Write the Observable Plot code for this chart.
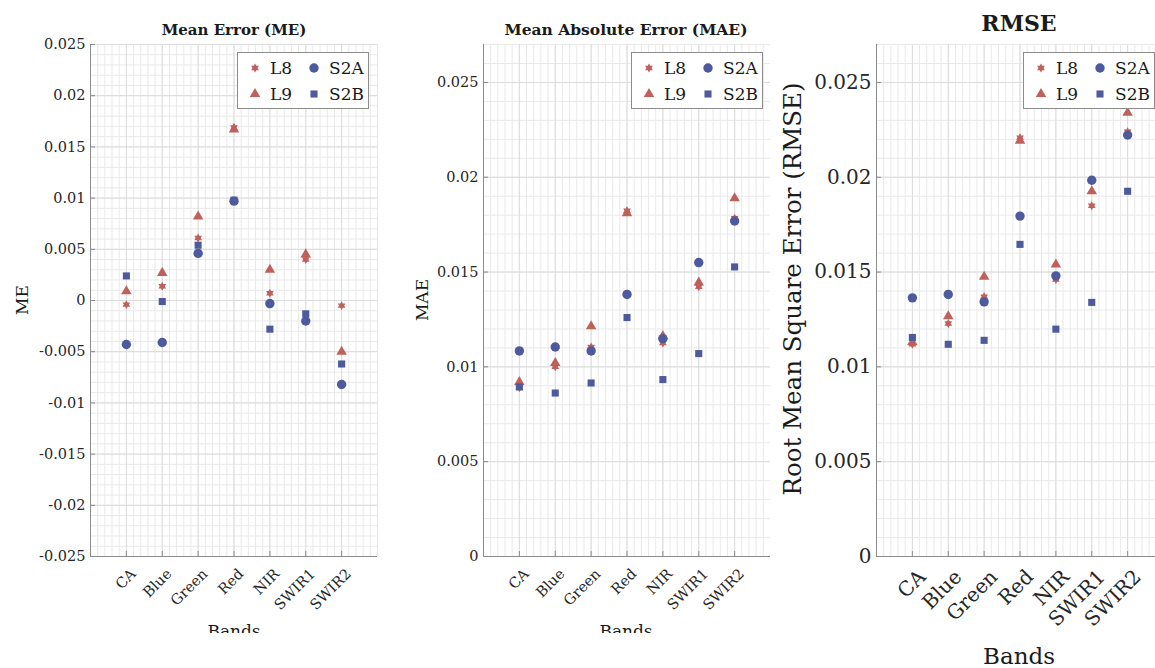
<!DOCTYPE html>
<html><head><meta charset="utf-8">
<script src="https://cdn.jsdelivr.net/npm/d3@7"></script>
<script src="https://cdn.jsdelivr.net/npm/@observablehq/plot@0.6"></script>
<style>
body{margin:0;width:1155px;height:668px;overflow:hidden;background:#fff;position:relative;font-family:"DejaVu Serif",serif}
.panel{position:absolute;top:0;overflow:hidden}
.panel svg{max-width:none !important}
#overlay{position:absolute;left:0;top:0;pointer-events:none}
</style></head>
<body>
<div id="p1" class="panel" style="left:0;width:390px;height:633px"></div>
<div id="p2" class="panel" style="left:390px;width:390px;height:633px"></div>
<div id="p3" class="panel" style="left:770px;width:400px;height:668px"></div>
<svg id="overlay" width="1155" height="668"></svg>
<script>
// ---- data ----
const bands = ["CA", "Blue", "Green", "Red", "NIR", "SWIR1", "SWIR2"];
const seriesNames = ["L8", "L9", "S2A", "S2B"];

const meL8  = [-0.0004, 0.0014, 0.0061, 0.0169, 0.0007, 0.0040, -0.0005];
const meL9  = [0.0009, 0.0027, 0.0082, 0.0167, 0.0030, 0.0045, -0.0050];
const meS2A = [-0.0043, -0.0041, 0.0046, 0.0097, -0.0003, -0.0020, -0.0082];
const meS2B = [0.0024, -0.0001, 0.0054, 0.0098, -0.0028, -0.0013, -0.0062];

const maeL8  = [0.0089, 0.0100, 0.01105, 0.01823, 0.01126, 0.01422, 0.01784];
const maeL9  = [0.0092, 0.0102, 0.01214, 0.0181, 0.01162, 0.01445, 0.01889];
const maeS2A = [0.01084, 0.01105, 0.01084, 0.01382, 0.01149, 0.0155, 0.01769];
const maeS2B = [0.00894, 0.00862, 0.00915, 0.0126, 0.00933, 0.0107, 0.01527];

const rmseL8  = [0.01119, 0.01229, 0.0137, 0.02209, 0.01461, 0.0185, 0.0224];
const rmseL9  = [0.0113, 0.01267, 0.01475, 0.02193, 0.0154, 0.01926, 0.0234];
const rmseS2A = [0.01364, 0.01382, 0.01343, 0.01795, 0.0148, 0.01984, 0.02223];
const rmseS2B = [0.01155, 0.01119, 0.0114, 0.01646, 0.01199, 0.0134, 0.01926];

const meTicks = [-0.025, -0.02, -0.015, -0.01, -0.005, 0, 0.005, 0.01, 0.015, 0.02, 0.025];
const posTicks = [0, 0.005, 0.01, 0.015, 0.02, 0.025];

// ---- styles ----
const RED = "#c0605a", BLUE = "#4e5a9e";
const FONT = "DejaVu Serif";
const hexagram = {
  draw(ctx, size) {
    const R = Math.sqrt(size / Math.PI) * 1.2, r = R / Math.sqrt(3);
    for (let i = 0; i < 12; i++) {
      const a = i * Math.PI / 6 - Math.PI / 2, rr = i % 2 ? r : R;
      const x = rr * Math.cos(a), y = rr * Math.sin(a);
      i ? ctx.lineTo(x, y) : ctx.moveTo(x, y);
    }
    ctx.closePath();
  }
};
const symStyle = {
  L8:  {symbol: hexagram, fill: RED, r: 3.7},
  L9:  {symbol: "triangle", fill: RED, r: 3.9},
  S2A: {symbol: "circle", fill: BLUE, r: 4.7},
  S2B: {symbol: "square", fill: BLUE, r: 4.0}
};

function rows(arr) { return arr.map((v, i) => ({band: i + 1, value: v})); }

function makePanel(cfg) {
  const {width, ml, mr, ydom, yticks, series, tickFont, ldx, ldy} = cfg;
  const mt = 44, mb = 112, H = 668;
  const xMinor = d3.range(0, 8.0001, 0.2);
  const yMinor = d3.range(Math.round(ydom[0] * 1000), Math.round(ydom[1] * 1000) + 1).map(d => d / 1000);
  const xt = bands.map((b, i) => i + 1);
  const innerH = H - mt - mb, innerW = width - ml - mr;
  const ty = (ydom[1] - ydom[0]) * 5 / innerH;
  const tx = 8 * 5 / innerW;
  const marks = [
    Plot.ruleX(xMinor, {stroke: "#e9e9e9", strokeWidth: 1}),
    Plot.ruleY(yMinor, {stroke: "#e9e9e9", strokeWidth: 1}),
    Plot.ruleX(xt, {stroke: "#dcdcdc"}),
    Plot.ruleY(yticks, {stroke: "#dcdcdc"}),
    Plot.ruleX([0], {y1: ydom[0], y2: ydom[1], stroke: "#8c8c8c"}),
    Plot.ruleY([ydom[0]], {x1: 0, x2: 8, stroke: "#8c8c8c"}),
    Plot.ruleX(xt, {y1: ydom[0], y2: ydom[0] + ty, stroke: "#8c8c8c"}),
    Plot.ruleY(yticks, {x1: 0, x2: tx, stroke: "#8c8c8c"}),
    Plot.axisY({ticks: yticks, tickSize: 0, tickPadding: 5, tickFormat: d => String(d), fontSize: tickFont, label: null, fill: "#262626"}),
    Plot.text(bands, {x: (d, i) => i + 1, y: () => ydom[0], text: d => d, rotate: -45,
      textAnchor: "end", lineAnchor: "middle", dx: ldx, dy: ldy, fontSize: tickFont, fill: "#262626"})
  ];
  for (const name of ["L8", "L9", "S2B", "S2A"]) {
    marks.push(Plot.dot(rows(series[name]), {x: "band", y: "value", ...symStyle[name]}));
  }
  return Plot.plot({
    width, height: H, marginLeft: ml, marginRight: mr, marginTop: mt, marginBottom: mb,
    x: {domain: [0, 8], axis: null},
    y: {domain: ydom, axis: null},
    style: {fontFamily: FONT, background: "white", overflow: "visible", maxWidth: "none"},
    marks
  });
}

document.getElementById("p1").append(makePanel({
  width: 390, ml: 90, mr: 13, ydom: [-0.025, 0.025], yticks: meTicks, tickFont: 14.5, ldx: 7, ldy: 15,
  series: {L8: meL8, L9: meL9, S2A: meS2A, S2B: meS2B}
}));
document.getElementById("p2").append(makePanel({
  width: 390, ml: 93, mr: 10, ydom: [0, 0.027], yticks: posTicks, tickFont: 14.5, ldx: 7, ldy: 15,
  series: {L8: maeL8, L9: maeL9, S2A: maeS2A, S2B: maeS2B}
}));
document.getElementById("p3").append(makePanel({
  width: 400, ml: 106, mr: 7, ydom: [0, 0.027], yticks: posTicks, tickFont: 20, ldx: 10, ldy: 17,
  series: {L8: rmseL8, L9: rmseL9, S2A: rmseS2A, S2B: rmseS2B}
}));

// ---- overlay texts and legends ----
const ov = d3.select("#overlay");
ov.append("defs").append("clipPath").attr("id", "clipTop").append("rect")
  .attr("x", 0).attr("y", 0).attr("width", 780).attr("height", 633);
function txt(s, x, y, size, opts = {}) {
  const t = ov.append("text").attr("x", x).attr("y", y).text(s)
    .attr("font-family", FONT).attr("font-size", size).attr("fill", opts.fill || "#1a1a1a")
    .attr("text-anchor", opts.anchor || "middle");
  if (opts.bold) t.attr("font-weight", "bold");
  if (opts.rot) t.attr("transform", `rotate(-90 ${x} ${y})`);
  if (opts.clip) t.attr("clip-path", "url(#clipTop)");
  return t;
}
txt("Mean Error (ME)", 234, 35, 15, {bold: true});
txt("Mean Absolute Error (MAE)", 626, 35, 15.5, {bold: true});
txt("RMSE", 1019, 31, 22, {bold: true});
txt("ME", 28, 300, 17, {rot: true});
txt("MAE", 428, 300, 17, {rot: true});
txt("Root Mean Square Error (RMSE)", 801, 289, 24.5, {rot: true});
txt("Bands", 234, 637, 17, {clip: true});
txt("Bands", 626, 637, 17, {clip: true});
txt("Bands", 1019, 664, 23);

function legend(bx, by) {
  ov.append("rect").attr("x", bx + 0.5).attr("y", by + 0.5).attr("width", 131).attr("height", 56)
    .attr("fill", "white").attr("stroke", "#8c8c8c");
  const items = [
    ["L8", bx + 18, by + 16], ["S2A", bx + 77, by + 16],
    ["L9", bx + 18, by + 42], ["S2B", bx + 77, by + 42]
  ];
  for (const [name, x, y] of items) {
    const st = symStyle[name];
    const type = st.symbol === hexagram ? hexagram : st.symbol === "triangle" ? d3.symbolTriangle : st.symbol === "circle" ? d3.symbolCircle : d3.symbolSquare;
    ov.append("path").attr("d", d3.symbol(type, Math.PI * st.r * st.r)())
      .attr("transform", `translate(${x},${y})`).attr("fill", st.fill);
    txt(name, x + 15, y + 6, 17, {anchor: "start"});
  }
}
legend(237, 52);
legend(631, 52);
legend(1023, 52);
</script>
</body></html>
